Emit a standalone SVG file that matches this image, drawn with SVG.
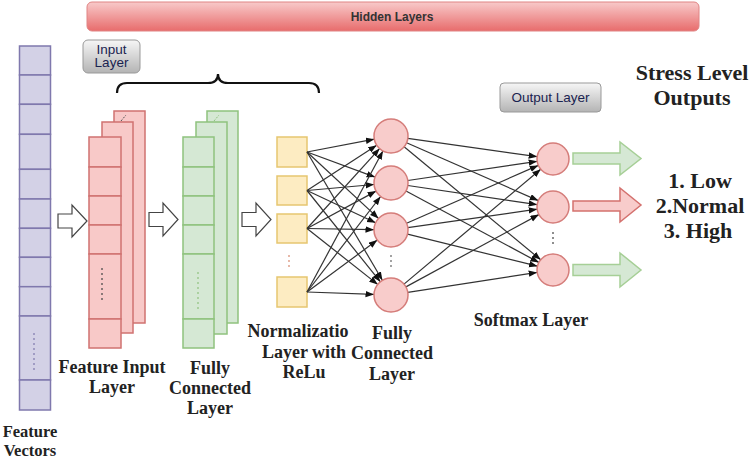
<svg xmlns="http://www.w3.org/2000/svg" width="751" height="461" viewBox="0 0 751 461">
<defs>
<linearGradient id="gRed" x1="0" y1="0" x2="0" y2="1"><stop offset="0" stop-color="#f8caca"/><stop offset="1" stop-color="#e86c6c"/></linearGradient>
<linearGradient id="gGray" x1="0" y1="0" x2="0" y2="1"><stop offset="0" stop-color="#f6f6f6"/><stop offset="1" stop-color="#b4b4b4"/></linearGradient>
<marker id="ah" markerWidth="9" markerHeight="7" refX="8.5" refY="3.2" orient="auto" markerUnits="userSpaceOnUse"><path d="M0,0 L8.5,3.2 L0,6.4 Z" fill="#111"/></marker>
</defs>
<style>
.pv{fill:#d3d1e6;stroke:#7f78ad;stroke-width:1.5}
.rd{fill:#f8c9c8;stroke:#d07270;stroke-width:1.5}
.gr{fill:#d5e8d4;stroke:#8fc27e;stroke-width:1.5}
.yl{fill:#fdecc2;stroke:#e6c670;stroke-width:1.5}
.nc{fill:#f8cccb;stroke:#d57d7a;stroke-width:1.5}
.ha{fill:#fff;stroke:#444;stroke-width:1.2}
.lbl{font-family:"Liberation Serif",serif;font-weight:bold;font-size:18px;fill:#222;text-anchor:middle}
.big{font-family:"Liberation Serif",serif;font-weight:bold;font-size:22px;fill:#222;text-anchor:middle}
.btn{font-family:"Liberation Sans",sans-serif;font-size:13.5px;fill:#1a2350;text-anchor:middle}
.cn{stroke:#333;stroke-width:1.2;fill:none;marker-end:url(#ah)}
</style>
<rect width="751" height="461" fill="#fff"/>

<g id="hidden-layers">
<rect x="87" y="2" width="612" height="29" rx="5" fill="url(#gRed)" stroke="#e08484" stroke-width="1"/>
<text x="392" y="21" font-family="Liberation Sans,sans-serif" font-weight="bold" font-size="12px" fill="#333" text-anchor="middle">Hidden Layers</text>
</g>

<g id="input-layer-btn">
<rect x="83" y="40" width="57" height="33" rx="5" fill="url(#gGray)" stroke="#999" stroke-width="1"/>
<text class="btn" x="111.5" y="53.5">Input</text>
<text class="btn" x="111.5" y="67">Layer</text>
</g>

<g id="output-layer-btn">
<rect x="500" y="83" width="101" height="29" rx="4" fill="url(#gGray)" stroke="#999" stroke-width="1"/>
<text class="btn" x="550.5" y="102">Output Layer</text>
</g>

<g id="brace">
<path d="M117,93 Q117,83 127,83 L208,83 Q218,83 218,74 Q218,83 228,83 L309,83 Q319,83 319,93" fill="none" stroke="#111" stroke-width="2.2"/>
</g>

<g id="feature-vectors">
<rect class="pv" x="19.5" y="46" width="31" height="29"/>
<rect class="pv" x="19.5" y="75" width="31" height="29.3"/>
<rect class="pv" x="19.5" y="104.3" width="31" height="30"/>
<rect class="pv" x="19.5" y="134.3" width="31" height="35"/>
<rect class="pv" x="19.5" y="169.3" width="31" height="29.7"/>
<rect class="pv" x="19.5" y="199" width="31" height="29.3"/>
<rect class="pv" x="19.5" y="228.3" width="31" height="29"/>
<rect class="pv" x="19.5" y="257.3" width="31" height="29.4"/>
<rect class="pv" x="19.5" y="286.7" width="31" height="29.3"/>
<rect class="pv" x="19.5" y="316" width="31" height="64"/>
<rect class="pv" x="19.5" y="380" width="31" height="30"/>
<line x1="34" y1="333" x2="34" y2="373" stroke="#7f78ad" stroke-width="1.2" stroke-dasharray="2,3"/>
<text class="lbl" x="30" y="437" style="font-size:16.5px">Feature</text>
<text class="lbl" x="30" y="456" style="font-size:16.5px">Vectors</text>
</g>

<g id="arrow1"><path class="ha" d="M58,214 L72,214 L72,205 L87,221 L72,237 L72,228 L58,228 Z"/></g>
<g id="arrow2"><path class="ha" d="M149,212.5 L163,212.5 L163,203 L178,219.5 L163,236 L163,226.5 L149,226.5 Z"/></g>
<g id="arrow3"><path class="ha" d="M242,212.5 L256,212.5 L256,203 L271,219.5 L256,236 L256,226.5 L242,226.5 Z"/></g>

<g id="feature-input-layer">
<rect class="rd" x="114" y="111" width="31" height="212"/>
<rect class="rd" x="102" y="122" width="31" height="211"/>
<rect class="rd" x="89" y="137" width="32" height="30"/>
<rect class="rd" x="89" y="167" width="32" height="29"/>
<rect class="rd" x="89" y="196" width="32" height="29"/>
<rect class="rd" x="89" y="225" width="32" height="29"/>
<rect class="rd" x="89" y="254" width="32" height="65"/>
<rect class="rd" x="89" y="319" width="32" height="29"/>
<line x1="102" y1="268" x2="102" y2="303" stroke="#444" stroke-width="1.2" stroke-dasharray="2,3"/>
<line x1="121" y1="121" x2="126" y2="115" stroke="#555" stroke-width="1" stroke-dasharray="2,1.5"/>
<text class="lbl" x="112" y="373">Feature Input</text>
<text class="lbl" x="112" y="393">Layer</text>
</g>

<g id="fully-connected-1">
<rect class="gr" x="207" y="111" width="31" height="212"/>
<rect class="gr" x="196" y="122" width="31" height="212"/>
<rect class="gr" x="183" y="137" width="31" height="30"/>
<rect class="gr" x="183" y="167" width="31" height="29"/>
<rect class="gr" x="183" y="196" width="31" height="29"/>
<rect class="gr" x="183" y="225" width="31" height="29"/>
<rect class="gr" x="183" y="254" width="31" height="65"/>
<rect class="gr" x="183" y="319" width="31" height="29"/>
<line x1="198" y1="272" x2="198" y2="312" stroke="#8fc27e" stroke-width="1.2" stroke-dasharray="2,3"/>
<line x1="214" y1="121" x2="219" y2="115" stroke="#8fc27e" stroke-width="1" stroke-dasharray="2,1.5"/>
<text class="lbl" x="210" y="374">Fully</text>
<text class="lbl" x="210" y="394">Connected</text>
<text class="lbl" x="210" y="414">Layer</text>
</g>

<g id="normalization-layer">
<rect class="yl" x="277" y="137" width="30" height="30"/>
<rect class="yl" x="277" y="176" width="30" height="29"/>
<rect class="yl" x="277" y="214" width="30" height="29"/>
<rect class="yl" x="277" y="277" width="30" height="30"/>
<line x1="289" y1="255" x2="289" y2="269" stroke="#d88a70" stroke-width="1.2" stroke-dasharray="2,3"/>
<text class="lbl" x="298" y="337">Normalizatio</text>
<text class="lbl" x="304" y="358">Layer with</text>
<text class="lbl" x="304" y="378">ReLu</text>
</g>

<g id="connectors">
<line class="cn" x1="307" y1="152" x2="374.3" y2="139.2"/>
<line class="cn" x1="307" y1="152" x2="375.1" y2="177.1"/>
<line class="cn" x1="307" y1="152" x2="378.5" y2="218.4"/>
<line class="cn" x1="307" y1="152" x2="382.4" y2="280.3"/>
<line class="cn" x1="307" y1="190.5" x2="376.7" y2="145.3"/>
<line class="cn" x1="307" y1="190.5" x2="374.1" y2="184.5"/>
<line class="cn" x1="307" y1="190.5" x2="375.6" y2="222.8"/>
<line class="cn" x1="307" y1="190.5" x2="380.4" y2="281.8"/>
<line class="cn" x1="307" y1="228.5" x2="379.6" y2="148.6"/>
<line class="cn" x1="307" y1="228.5" x2="376.1" y2="191.1"/>
<line class="cn" x1="307" y1="228.5" x2="374.0" y2="229.7"/>
<line class="cn" x1="307" y1="228.5" x2="377.7" y2="284.4"/>
<line class="cn" x1="307" y1="292" x2="382.9" y2="151.0"/>
<line class="cn" x1="307" y1="292" x2="380.6" y2="196.5"/>
<line class="cn" x1="307" y1="292" x2="377.3" y2="240.1"/>
<line class="cn" x1="307" y1="292" x2="374.0" y2="294.4"/>

<line class="cn" x1="407.8" y1="138.4" x2="537.2" y2="156.7"/>
<line class="cn" x1="406.6" y1="142.8" x2="538.3" y2="200.6"/>
<line class="cn" x1="404.1" y1="146.8" x2="540.7" y2="259.8"/>
<line class="cn" x1="407.8" y1="180.5" x2="537.2" y2="161.3"/>
<line class="cn" x1="407.8" y1="185.5" x2="537.2" y2="204.7"/>
<line class="cn" x1="406.0" y1="191.0" x2="538.9" y2="262.4"/>
<line class="cn" x1="406.6" y1="223.2" x2="538.3" y2="165.4"/>
<line class="cn" x1="407.8" y1="227.6" x2="537.2" y2="209.2"/>
<line class="cn" x1="407.5" y1="234.1" x2="537.5" y2="266.2"/>
<line class="cn" x1="404.0" y1="284.1" x2="540.7" y2="169.3"/>
<line class="cn" x1="405.9" y1="286.9" x2="538.9" y2="214.6"/>
<line class="cn" x1="407.8" y1="292.4" x2="537.2" y2="272.4"/>
</g>

<g id="fully-connected-2">
<circle class="nc" cx="391" cy="136" r="17"/>
<circle class="nc" cx="391" cy="183" r="17"/>
<circle class="nc" cx="391" cy="230" r="17"/>
<circle class="nc" cx="391" cy="295" r="17"/>
<line x1="391" y1="255" x2="391" y2="270" stroke="#666" stroke-width="1.2" stroke-dasharray="2,3"/>
<text class="lbl" x="392" y="339">Fully</text>
<text class="lbl" x="392" y="359">Connected</text>
<text class="lbl" x="392" y="380">Layer</text>
</g>

<g id="softmax-layer">
<circle class="nc" cx="553" cy="159" r="16"/>
<circle class="nc" cx="553" cy="207" r="16"/>
<circle class="nc" cx="553" cy="270" r="16"/>
<line x1="553" y1="232" x2="553" y2="247" stroke="#444" stroke-width="1.2" stroke-dasharray="2,3"/>
<text class="lbl" x="531" y="326">Softmax Layer</text>
</g>

<g id="output-arrows">
<path d="M573,153 L620,153 L620,142 L641,158.5 L620,175 L620,164 L573,164 Z" fill="#d5e8d4" stroke="#a6cf96" stroke-width="1.5"/>
<path d="M573,201 L620,201 L620,188 L641,205 L620,222 L620,211 L573,211 Z" fill="#f8cccb" stroke="#d4716e" stroke-width="1.5"/>
<path d="M573,264.5 L620,264.5 L620,253 L641,270 L620,287 L620,275.5 L573,275.5 Z" fill="#d5e8d4" stroke="#a6cf96" stroke-width="1.5"/>
</g>

<g id="outputs-text">
<text class="big" x="692" y="80">Stress Level</text>
<text class="big" x="692" y="105">Outputs</text>
<text class="big" x="700" y="188">1. Low</text>
<text class="big" x="700" y="213">2.Normal</text>
<text class="big" x="698" y="238">3. High</text>
</g>
</svg>
